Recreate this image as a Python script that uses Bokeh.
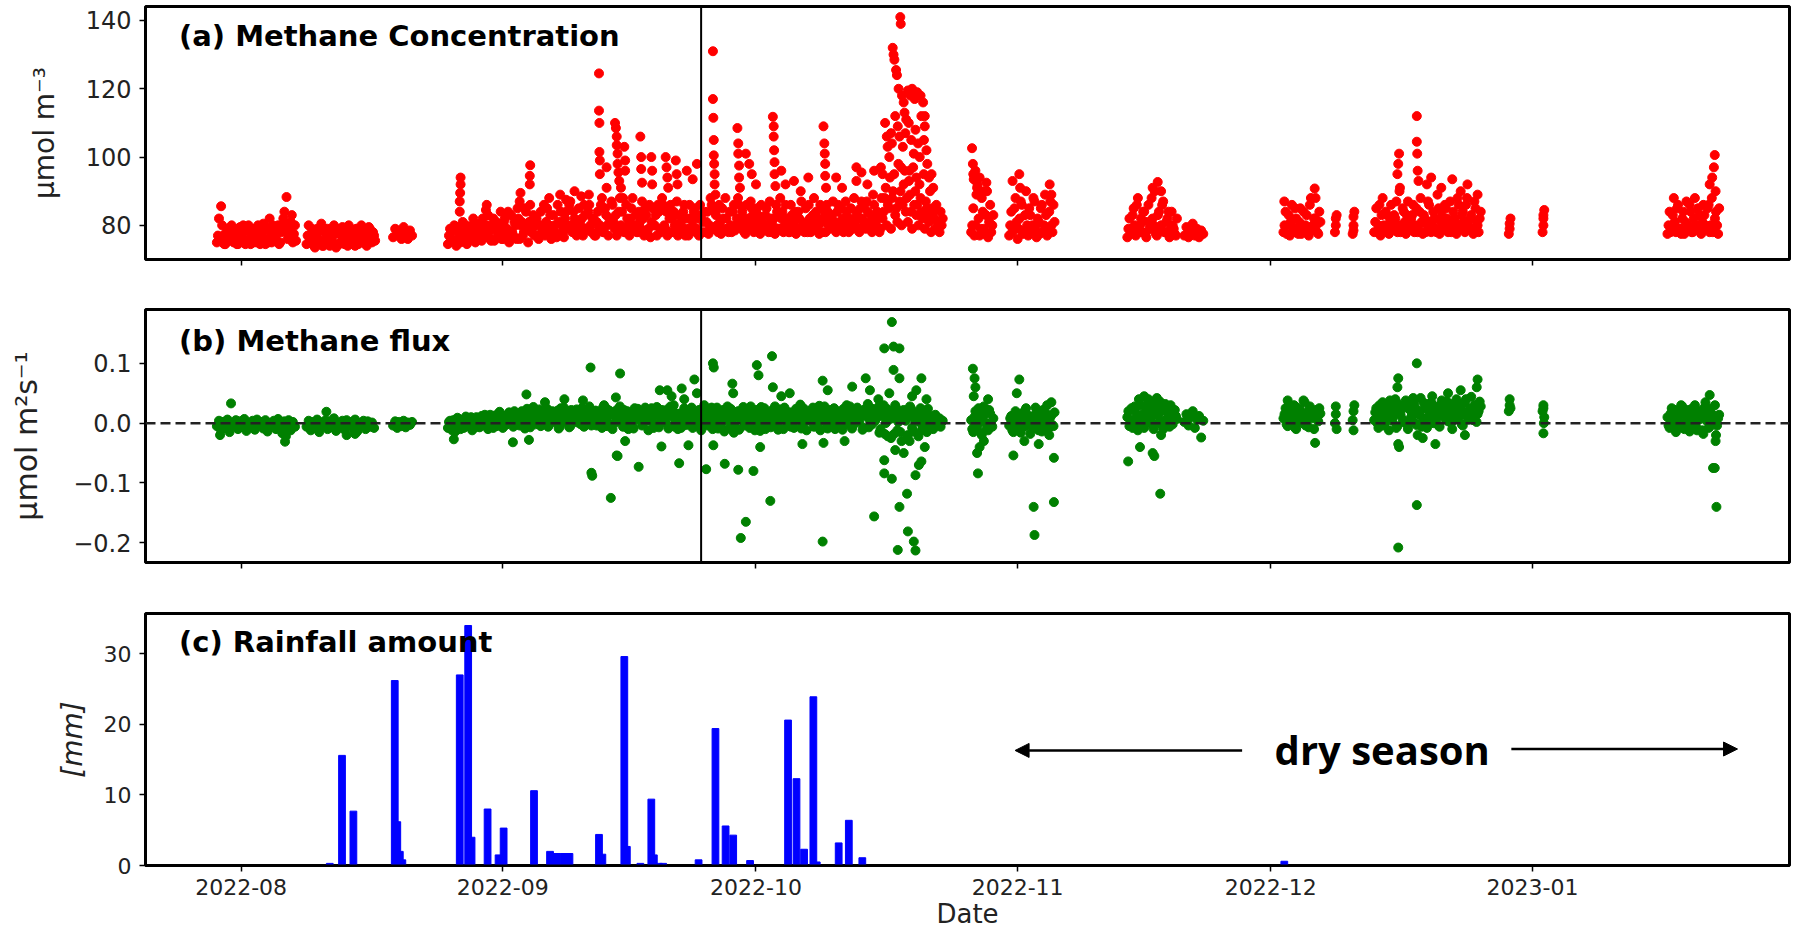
import pandas as pd
from bokeh.plotting import figure
from bokeh.layouts import column
from bokeh.models import (Range1d, FixedTicker, DatetimeTickFormatter, Span, Label,
                          Arrow, NormalHead)
from bokeh.embed import file_html
from bokeh.resources import INLINE

# ---------------- data ----------------
BASE_DATE = "2022-08-01"          # day offsets below are counted from this date
SAMPLE_STEP = "6h"                # regular sampling grid of the base series

month_ticks = ["2022-08-01", "2022-09-01", "2022-10-01", "2022-11-01", "2022-12-01", "2023-01-01"]
x_window = ["2022-07-20 16:00", "2023-01-31 11:00"]
season_split = "2022-09-24 12:00"

# segment start (day offset) of the 6-hourly base series
seg_start = [-2.875, 7.75, 18.0, 24.5, 86.5, 91.0, 105.0, 111.75, 123.5, 134.25, 169.0]
# second, interleaved readings of the dense segments
seg_start_b = [-2.75, 7.875, 24.625, 86.625, 91.125, 105.125, 123.625, 134.375, 169.125]
flux_seg_start_b = [24.625, 86.625, 91.125, 105.125, 123.625, 134.375, 169.125]

# (a) methane concentration, umol m-3
conc_1 = [75, 82, 85.6, 77, 74.5, 79, 76, 80, 75, 78, 74.5, 79.5, 76, 78, 75, 80, 74.5, 77, 79, 75,
          78, 76, 80.5, 74.5, 79, 82, 75, 78, 76, 80, 75, 79, 84, 88.3, 77, 81, 75, 80]
conc_2 = [74.5, 80, 76, 78, 73.5, 79, 75.5, 80.5, 74, 77.5, 79, 74, 76.5, 80, 73.5, 78, 75, 79.5, 74.5,
          77, 80, 75, 78.5, 74, 79, 76.5, 80, 75, 78, 76.5, 79, 75, 77]
conc_3 = [76.5, 79, 77, 78.5, 76, 79.5, 77.5, 76, 78.5, 77]
conc_4 = [74.5, 79,
          76, 80, 74, 78, 75, 81, 77, 74.5, 79, 76, 82, 75, 78, 80.5, 75.5, 79, 77, 83, 76, 80,
          75.5, 81, 78, 84, 76, 82, 79, 75, 83, 77, 80, 85, 76, 81, 78, 84, 75, 86, 79, 77,
          82, 76, 84, 79, 77, 85, 80, 76, 83, 78, 86, 77, 80, 76.5, 84, 79, 87, 78, 82, 77,
          85, 80, 77, 83, 79, 86, 78, 82, 77, 84, 80, 88, 78, 83, 77, 81, 86, 79, 77, 84,
          80, 88, 78, 82, 77, 85, 79, 83, 78, 81, 87, 77, 83, 79, 76.5, 85, 80, 77, 84, 78,
          86, 79, 77, 82, 78, 84, 80, 77, 83, 78, 86, 79, 77, 82, 80, 85, 79, 77, 83, 81,
          78, 84, 80, 86, 79, 83, 78, 81, 85, 79, 82, 78, 80, 84, 78.5, 82, 86, 79, 81, 77.5,
          82, 79, 85, 78, 80, 83, 77.5, 81, 79, 85, 78, 82, 80, 77.5, 84, 79, 82, 78, 86, 80,
          78, 83, 80, 77.5, 84, 79, 81, 78, 80, 86, 78, 83, 79, 82, 77.5, 85, 81, 78, 84, 79,
          83, 80, 78, 86, 79, 82, 80, 84, 78, 85, 79, 81, 83, 78, 87, 80, 79, 84, 81, 78,
          86, 80, 83, 79, 82, 88, 80, 85, 79, 90, 83, 81, 87, 80, 92, 84, 81, 89, 79, 86,
          83, 80, 88, 82, 79, 85, 81, 78, 84, 79, 81, 78,
          80]
conc_5 = [78, 85, 80, 92, 77, 88, 79, 83, 76.5, 86, 80]
conc_6 = [77, 84, 79, 88, 76, 82, 86, 78, 90, 77, 83, 80, 87, 76.5, 81, 85, 78, 89, 77, 84, 80, 86]
conc_7 = [76.5, 82, 79, 85, 77, 88, 80, 78, 84, 76.5, 86, 79, 82, 90, 77, 84, 80, 87, 78, 82, 76.5, 84, 79, 77]
conc_8 = [77, 79.5, 76.5, 78, 80.5, 77, 79, 76.5, 78.5, 77.5]
conc_9 = [78, 84, 80, 77, 86, 79, 82, 77.5, 85, 80, 78, 83, 77, 88, 80, 82, 78, 84]
conc_10 = [78, 85, 80, 77, 88, 79, 83, 77.5, 86, 80, 82, 78, 90, 79, 84, 77.5, 87, 80, 83, 78, 85, 79,
           88, 77.5, 82, 80, 86, 78, 84, 79, 89, 77.5, 83, 80, 85, 78, 87, 79, 82, 77.5, 86, 80, 84,
           78, 88, 79, 83, 77.5, 85, 80, 82]
conc_11 = [77.5, 84, 80, 88, 78, 86, 79, 82, 77.5, 87, 80, 84, 78, 88, 79, 83, 77.5, 86, 80, 85, 78, 88,
           79, 84, 77.5]
conc_segments = [conc_1, conc_2, conc_3, conc_4, conc_5, conc_6, conc_7, conc_8, conc_9, conc_10, conc_11]

conc_1b = [77, 76, 80, 74.5, 78, 75.5, 79.5, 76.5, 78, 74.5, 77, 76, 80, 74.5, 78.5, 76, 79, 75, 77.5, 80,
           74.5, 78, 76, 79.5, 75, 77, 80, 76, 79, 74.5, 78, 82, 80, 76, 79, 83, 77.5, 75.5]
conc_2b = [77, 75, 79, 74, 77, 76, 78.5, 74, 79, 76, 74.5, 78, 75, 77.5, 79, 74.5, 77, 76, 79, 74, 78,
           76.5, 75, 79, 74.5, 77.5, 75, 78, 74, 79.5, 76, 78, 75.5]
conc_4b = [77, 75.5,
           78.5, 75, 79.5, 76.5, 78, 75.5, 80, 77, 76, 80, 77.5, 79, 76, 78, 82, 77, 80, 78, 75.5, 82,
           79, 77, 80, 76, 81, 78, 84, 77, 78, 81, 76, 82, 80, 77, 85, 79, 81, 78, 83, 80,
           77, 80, 78, 86, 81, 79, 83, 78, 80, 76.5, 81, 84, 78, 82, 80, 86, 80, 84, 79, 81,
           78, 82, 86, 79, 84, 80, 82, 77, 81, 79, 86, 78, 85, 80, 82, 87, 81, 83, 79, 88,
           84, 78, 86, 80, 82, 88, 80, 78, 84, 79, 82, 85, 78, 86, 81, 80, 83, 86, 79, 88,
           80, 84, 78, 86, 82, 80, 87, 79, 81, 84, 77, 82, 86, 79, 84, 78, 82, 86, 78, 84,
           81, 77.5, 88, 79, 84, 80, 86, 77.5, 82, 88, 79, 84, 78, 86, 80, 88, 82, 84, 78, 86,
           80, 87, 83, 81, 85, 78, 86, 79, 83, 80, 87, 78, 82, 86, 79, 88, 84, 80, 82, 78,
           86, 81, 84, 79, 82, 87, 80, 85, 78, 82, 80, 88, 84, 80, 86, 78, 83, 86, 80, 82,
           87, 81, 84, 80, 85, 78, 87, 81, 82, 80, 88, 84, 79, 85, 82, 86, 87, 80, 83, 89,
           81, 84, 78, 88, 84, 91, 86, 94, 88, 95, 85, 98, 90, 86, 96, 88, 93, 84, 97, 90,
           86, 92, 84, 95, 87, 83, 90, 85, 82, 86, 80, 84,
           82]
conc_5b = [80, 77, 89, 82, 79, 84, 77.5, 90, 81, 78, 83]
conc_6b = [80, 78, 85, 81, 79, 87, 77.5, 83, 80, 85, 78, 88, 79, 82, 77.5, 86, 80, 83, 79, 87, 78, 81]
conc_7b = [79, 77.5, 83, 80, 86, 78, 82, 84, 77.5, 81, 79, 88, 80, 77.5, 83, 79, 86, 78, 81, 84, 79, 80,
           77.5, 82]
conc_9b = [80, 77.5, 83, 81, 78, 85, 79, 81, 77.5, 84, 80, 78, 86, 79, 82, 80, 77.5, 81]
conc_10b = [81, 78, 86, 83, 80, 84, 78, 81, 79, 83, 87, 80, 78, 85, 81, 83, 79, 82, 86, 80, 78, 84, 81,
            83, 78, 87, 81, 80, 82, 78, 85, 81, 79, 86, 82, 80, 78, 84, 81, 88, 79, 83, 81, 86, 80, 82,
            79, 87, 81, 78, 84]
conc_11b = [80, 78, 83, 81, 85, 79, 77.5, 84, 81, 79, 86, 78, 82, 80, 85, 78, 81, 83, 79, 86, 80, 78, 82,
            80, 85]
conc_segments_b = [conc_1b, conc_2b, conc_4b, conc_5b, conc_6b, conc_7b, conc_9b, conc_10b, conc_11b]

# isolated high readings of (a): day offset, value
conc_spike_day = [25.9, 25.9, 25.95, 26.0, 26.0, 29.0, 29.1, 33.0, 33.1, 34.2, 34.2, 34.25,
                  36.5, 37.8, 38.5, 39.5, 40.3, 41.2,
                  42.4, 42.4, 42.45, 42.45, 42.5, 42.5, 43.3, 43.3,
                  44.3, 44.4, 44.5, 44.5, 44.6, 44.6, 44.7, 44.8, 45.0, 45.4, 45.5, 45.5,
                  47.3, 47.4, 47.4, 47.5, 48.6, 48.7, 48.7, 50.3, 50.4, 50.5, 50.6, 51.5, 51.6, 51.7,
                  52.8, 53.5, 54.0,
                  55.9, 55.9, 55.95, 56.0, 56.0, 56.05, 56.1, 56.1, 56.2,
                  58.8, 58.9, 58.9, 59.0, 59.0, 59.1, 59.8, 60.2, 60.5, 61.0,
                  63.0, 63.1, 63.1, 63.15, 63.2, 63.2, 63.3, 64.0, 64.5, 65.5, 66.3, 67.2,
                  69.0, 69.1, 69.15, 69.2, 69.2, 69.3, 70.5, 71.2, 72.9, 72.9, 73.5, 74.2, 75.0,
                  77.2, 77.3, 77.4, 77.6, 77.7, 78.1, 78.15, 77.9, 78.3, 78.5, 78.6, 78.8,
                  79.0, 79.3, 79.5, 79.8, 80.1, 80.5, 80.8, 81.0, 81.0, 76.3, 76.5, 76.6, 76.8,
                  77.0, 77.1, 77.5, 77.8, 78.0, 78.4, 78.7, 79.1, 79.4, 79.7, 79.9, 80.2, 80.4,
                  80.6, 80.9, 81.2, 81.3, 75.8, 76.0, 78.2, 79.2, 80.0, 81.5, 82.0, 81.8,
                  86.6, 86.7, 86.75, 86.8, 87.0, 87.2, 87.5, 88.0, 88.3,
                  91.4, 92.2, 92.3, 95.8, 96.0, 108.0, 108.6, 109.0, 123.6, 127.2, 127.3,
                  129.6, 129.7, 129.7, 129.8, 131.7, 131.8, 131.8, 131.9, 131.8,
                  137.0, 137.1, 137.2, 137.3, 139.3, 139.3, 139.35, 139.4, 139.5, 140.5, 141.0,
                  142.2, 143.5, 144.5, 145.3, 146.5,
                  150.2, 150.3, 150.3, 150.4, 154.2, 154.3, 154.3, 154.4, 154.3,
                  174.0, 174.3, 174.5, 174.6, 174.7]
conc_spike_val = [84, 87, 89.5, 92, 94, 84.5, 86, 87, 89.5, 92, 94.5, 97.6,
                  88, 89, 87.5, 90, 88.5, 89,
                  124.5, 113.6, 110, 101.5, 99, 95, 97, 91,
                  110, 108.5, 106, 103.5, 101, 98, 95.5, 93, 91, 103, 99, 96,
                  106, 100, 96.5, 92.5, 100, 96, 92, 100, 97, 94, 91, 99, 95, 92,
                  96, 93.5, 98,
                  131, 117, 111.5, 105, 100.5, 98, 95, 92, 89,
                  108.5, 104, 101, 97.5, 94, 91, 101, 98, 95, 92,
                  111.8, 109, 106, 102, 98.5, 95, 91.5, 96, 92, 93, 90, 94,
                  109, 104, 101, 98, 94.5, 91, 94, 91, 97, 93, 95.5, 92, 96,
                  132, 130, 128.5, 125.5, 124, 141, 139, 120, 118, 116, 113, 111,
                  119.5, 118, 120, 117, 119, 118, 116, 112, 109, 110, 106, 103, 100,
                  107, 104, 112, 109, 106, 103, 107, 110, 105, 101, 108, 104, 100,
                  112, 105, 102, 98, 97, 95, 97, 96, 94, 94, 91, 95,
                  102.6, 98, 95, 93.5, 96, 91, 94, 90, 92.5,
                  93, 95, 91, 92, 89, 91, 92.7, 90, 87, 90.8, 88,
                  78, 80, 82, 83, 77.5, 80, 82.5, 84, 78.5,
                  95, 98, 101, 91, 112, 104.5, 101, 96, 93, 92, 94,
                  91, 93.5, 90, 92, 89,
                  77.5, 79, 80.5, 82, 78, 80, 82, 84.5, 83,
                  92, 94, 97, 100.6, 90]

# (b) methane flux, umol m2 s-1
flux_1 = [-0.005, 0.004, -0.012, 0.002, -0.008, 0.006, -0.015, 0.0, -0.004, 0.005, -0.01, 0.003, -0.006,
          0.007, -0.013, 0.001, -0.007, 0.004, -0.011, 0.006, -0.003, 0.002, -0.009, 0.005, -0.014, 0.0,
          -0.006, 0.004, -0.01, 0.007, -0.004, -0.017, 0.003, -0.008, 0.005, -0.012, 0.002, -0.006]
flux_2 = [-0.006, 0.004, -0.012, 0.002, -0.008, 0.006, -0.015, 0.001, -0.004, 0.005, -0.01, 0.003, -0.006,
          0.008, -0.013, 0.0, -0.007, 0.004, -0.011, 0.005, -0.003, 0.002, -0.009, 0.006, -0.014, 0.0,
          -0.005, 0.004, -0.01, 0.003, -0.006, 0.001, -0.008]
flux_3 = [-0.004, 0.003, -0.008, 0.002, -0.005, 0.004, -0.007, 0.001, -0.003, 0.002]
flux_4 = [-0.008, 0.004,
          -0.012, 0.002, -0.005, 0.007, -0.01, 0.003, -0.006, 0.008, -0.004, 0.01, -0.009, 0.005,
          0.002, -0.007, 0.012, -0.003, 0.006, -0.01, 0.014, 0.0, 0.009, -0.005, 0.016, 0.003,
          -0.008, 0.012, 0.002, 0.018, 0.005, -0.006, 0.015, 0.008, -0.004, 0.02, 0.003, 0.011,
          0.016, -0.007, 0.009, 0.022, 0.001, 0.014, -0.005, 0.019, 0.008, 0.024, -0.003, 0.012,
          0.017, 0.002, 0.021, -0.006, 0.01, 0.026, 0.004, 0.015, -0.005, 0.018, 0.007, 0.023,
          0.012, -0.002, 0.02, 0.006, 0.016, 0.028, -0.004, 0.009, 0.021, 0.003, 0.014, -0.008,
          0.011, 0.025, 0.0, 0.017, -0.01, 0.013, 0.022, 0.004, 0.015, -0.006, 0.009, 0.02,
          0.003, 0.018, -0.009, 0.012, 0.024, 0.006, -0.004, 0.016, 0.009, -0.012, 0.019, 0.002,
          0.014, 0.027, -0.007, 0.008, 0.018, 0.001, 0.023, -0.005, 0.011, 0.03, 0.004, -0.01,
          0.016, 0.007, 0.025, -0.003, 0.02, 0.009, -0.008, 0.014, 0.005, 0.022, -0.012, 0.01,
          0.017, -0.004, 0.012, 0.026, 0.002, 0.015, -0.009, 0.021, 0.008, -0.014, 0.018, 0.004,
          0.024, 0.01, -0.006, 0.016, -0.011, 0.013, 0.027, 0.001, 0.019, -0.008, 0.009, 0.022,
          0.005, 0.017, -0.013, 0.012, 0.025, 0.002, 0.014, -0.007, 0.01, 0.028, -0.004, 0.016,
          0.006, -0.01, 0.021, 0.011, 0.018, 0.003, -0.008, 0.024, 0.009, 0.031, -0.005, 0.014,
          -0.012, 0.02, 0.007, 0.026, 0.013, -0.003, 0.029, 0.004, 0.017, 0.008, -0.009, 0.022,
          0.003, 0.025, 0.011, -0.006, 0.019, -0.011, 0.014, 0.03, 0.007, 0.021, -0.004, 0.015,
          0.026, 0.002, 0.018, -0.008, 0.012, 0.032, 0.005, -0.002, 0.02, 0.009, 0.027, -0.01,
          0.015, -0.018, 0.024, 0.006, -0.025, 0.018, 0.03, -0.012, 0.011, -0.03, 0.022, 0.004,
          -0.02, 0.028, -0.008, 0.016, 0.009, -0.022, 0.025, -0.005, 0.019, -0.015, 0.012, 0.003,
          -0.01, 0.014, -0.004, 0.008,
          0.002]
flux_5 = [0.005, -0.015, 0.02, -0.004, 0.012, -0.02, 0.028, 0.0, -0.012, 0.016, -0.006]
flux_6 = [-0.004, 0.012, -0.015, 0.02, 0.003, -0.01, 0.016, -0.006, 0.025, 0.0, -0.018, 0.011, -0.003,
          0.018, -0.012, 0.007, 0.022, -0.008, 0.004, -0.02, 0.013, -0.005]
flux_7 = [0.01, -0.005, 0.025, 0.003, 0.018, -0.012, 0.03, 0.006, -0.008, 0.022, 0.012, 0.035, -0.003,
          0.015, 0.028, 0.0, 0.02, -0.01, 0.032, 0.008, -0.006, 0.017, 0.004, 0.012]
flux_8 = [0.002, 0.015, -0.004, 0.01, 0.02, -0.008, 0.006, 0.012, -0.024, 0.004]
flux_9 = [0.008, 0.025, -0.005, 0.018, 0.002, 0.03, -0.01, 0.012, 0.022, 0.0, 0.035, 0.006, -0.007,
          0.02, 0.014, -0.033, 0.01, 0.025]
flux_10 = [0.005, 0.025, -0.008, 0.015, 0.035, 0.0, 0.02, -0.012, 0.03, 0.01, 0.04, -0.005, 0.018, 0.028,
           0.002, 0.038, -0.01, 0.022, 0.012, 0.032, -0.003, 0.015, 0.042, 0.006, 0.025, -0.008, 0.02,
           0.035, 0.0, 0.028, 0.01, -0.006, 0.038, 0.015, 0.022, 0.003, 0.032, -0.01, 0.018, 0.04,
           0.008, 0.026, -0.004, 0.034, 0.012, 0.02, 0.044, 0.005, 0.03, 0.015, 0.036]
flux_11 = [0.01, -0.008, 0.025, 0.003, -0.015, 0.018, 0.0, 0.028, -0.01, 0.012, 0.022, -0.005, 0.015,
           0.03, -0.012, 0.006, 0.02, -0.018, 0.01, 0.025, -0.006, 0.015, 0.002, -0.02, 0.008]
flux_segments = [flux_1, flux_2, flux_3, flux_4, flux_5, flux_6, flux_7, flux_8, flux_9, flux_10, flux_11]

flux_4b = [0.002, -0.006,
           0.005, -0.014, 0.009, -0.002, 0.004, -0.008, 0.011, -0.005, 0.007, -0.012, 0.003, 0.01,
           -0.006, 0.008, -0.002, 0.014, -0.004, 0.011, 0.004, -0.008, 0.013, 0.0, 0.019, -0.006,
           0.006, -0.003, 0.015, 0.01, 0.012, 0.02, -0.002, 0.004, 0.009, 0.016, -0.009, 0.024,
           0.004, 0.012, 0.027, -0.002, 0.01, 0.023, 0.006, 0.014, 0.018, -0.006, 0.009, 0.02,
           0.007, 0.013, -0.009, 0.025, 0.002, 0.018, 0.012, -0.007, 0.022, 0.01, 0.015, 0.001,
           0.008, 0.025, -0.006, 0.017, 0.004, 0.012, 0.02, 0.007, -0.004, 0.018, 0.009, 0.026,
           0.006, -0.005, 0.021, 0.013, 0.018, 0.001, 0.009, 0.028, 0.005, 0.022, 0.012, -0.01,
           0.015, -0.004, 0.025, 0.007, 0.011, 0.019, 0.0, 0.026, 0.004, 0.015, 0.025, -0.008,
           0.02, -0.003, 0.012, 0.022, 0.006, 0.014, -0.009, 0.028, 0.02, -0.006, 0.016, 0.009,
           -0.008, 0.012, 0.002, 0.019, 0.004, 0.026, 0.013, 0.001, 0.016, -0.007, 0.008, 0.03,
           0.008, 0.02, 0.003, -0.01, 0.011, 0.026, 0.006, -0.004, 0.022, 0.013, 0.028, -0.008,
           0.003, -0.016, 0.012, 0.02, 0.006, 0.02, -0.004, 0.015, 0.012, 0.028, 0.003, -0.012,
           0.022, -0.004, 0.027, 0.008, -0.01, 0.017, 0.006, 0.021, 0.019, 0.004, -0.011, 0.023,
           0.014, 0.026, 0.002, 0.017, -0.006, 0.012, 0.02, 0.005, 0.02, -0.009, 0.025, 0.003,
           0.015, 0.004, 0.018, -0.006, 0.021, 0.009, -0.012, 0.017, 0.028, -0.004, 0.012, 0.006,
           0.016, -0.01, 0.02, 0.008, 0.005, 0.024, -0.002, 0.01, 0.028, -0.009, 0.011, 0.022,
           0.008, 0.015, -0.011, 0.023, 0.019, -0.007, 0.025, 0.01, 0.004, 0.018, -0.016, 0.012,
           0.03, 0.0, -0.022, 0.016, 0.008, -0.018, 0.025, 0.002, -0.015, 0.02, 0.006, -0.026,
           0.012, 0.024, -0.014, 0.004, 0.018, 0.002, -0.012, 0.015, 0.005, 0.024, -0.008, 0.01,
           0.012, -0.002, 0.007, -0.006,
           0.004]
flux_5b = [-0.01, 0.01, -0.003, 0.025, -0.016, 0.006, 0.015, -0.008, 0.022, -0.002, 0.008]
flux_6b = [0.008, -0.012, 0.005, -0.006, 0.014, -0.016, 0.01, 0.021, -0.004, 0.012, 0.002, -0.008, 0.026,
           -0.002, 0.009, -0.014, 0.006, 0.016, -0.01, 0.01, -0.003, 0.018]
flux_7b = [0.02, 0.005, -0.008, 0.028, 0.01, 0.04, -0.004, 0.015, 0.03, 0.002, 0.024, 0.008, -0.01, 0.026,
           0.014, 0.036, 0.004, -0.006, 0.02, 0.012, 0.03, -0.002, 0.022, 0.007]
flux_9b = [0.015, -0.002, 0.03, 0.006, 0.02, -0.008, 0.026, 0.004, 0.012, 0.038, -0.004, 0.018, 0.028,
           0.008, -0.01, 0.022, 0.003, 0.016]
flux_10b = [0.018, 0.0, 0.03, 0.01, -0.004, 0.024, 0.012, 0.038, 0.004, 0.02, -0.008, 0.032, 0.014, 0.006,
            0.026, -0.002, 0.03, 0.01, 0.042, 0.0, 0.022, 0.016, -0.006, 0.034, 0.008, 0.028, 0.012,
            0.045, 0.004, 0.018, -0.004, 0.03, 0.02, 0.008, 0.036, 0.014, 0.0, 0.026, 0.01, 0.022,
            0.032, -0.002, 0.016, 0.04, 0.006, 0.024, 0.012, 0.03, 0.002, 0.02, 0.028]
flux_11b = [-0.004, 0.016, 0.006, 0.022, -0.01, 0.012, 0.03, -0.002, 0.018, 0.004, -0.014, 0.024, 0.008,
            -0.006, 0.02, 0.012, -0.012, 0.026, 0.004, -0.008, 0.018, 0.01, 0.03, -0.004, 0.014]
flux_segments_b = [flux_4b, flux_5b, flux_6b, flux_7b, flux_9b, flux_10b, flux_11b]

flux_spike_day = [-1.2, 5.2, 5.3, -2.5, 10.1, 12.5, 13.5,
                  25.2, 32.2, 34.1, 33.8, 36.0, 38.3, 40.5, 41.4, 41.5, 41.6, 43.0, 44.4, 44.9, 44.5,
                  44.6, 43.8, 45.5, 47.1, 49.8, 49.6, 50.5, 51.0, 51.9, 52.2, 52.5, 53.7, 54.0, 53.0,
                  55.1, 55.9, 56.0, 55.95, 57.3, 58.2, 58.3, 58.9, 59.2, 59.8, 60.7, 61.1, 61.3, 61.5,
                  62.7, 62.9, 63.0, 64.0, 65.0, 66.5, 68.9, 68.9, 69.0, 69.5, 71.5, 72.4, 74.0, 74.5,
                  75.0, 76.2, 77.1, 77.3, 78.0, 77.3, 78.0, 76.2, 76.2, 77.1, 77.8, 78.0, 78.9, 79.0,
                  79.7, 79.9, 79.9, 80.6, 80.6, 77.5, 78.5, 79.5, 80.0, 81.0, 76.8, 75.5, 79.2, 80.3, 81.2,
                  86.7, 86.9, 87.0, 87.2, 87.3, 87.5, 86.8, 88.0, 88.5,
                  92.2, 91.9, 91.5, 92.8, 93.9, 94.0, 96.3, 96.3, 95.5, 96.0, 94.5,
                  105.1, 106.5, 107.0, 107.5, 108.0, 108.2, 108.9, 108.5, 109.0, 124.0,
                  129.6, 129.7, 129.7, 129.8, 131.7, 131.8, 131.8, 131.9,
                  137.0, 137.1, 137.1, 137.2, 137.1, 139.3, 139.3, 139.4, 140.0, 141.5, 143.0, 144.5,
                  146.5, 146.4, 145.0,
                  150.2, 150.3, 150.3, 150.4, 154.2, 154.3, 154.3, 154.4, 154.3, 154.35,
                  174.0, 174.4, 174.6, 174.8, 174.7, 173.5]
flux_spike_val = [0.033, -0.031, -0.022, -0.02, 0.019, -0.02, -0.018,
                  -0.027, -0.032, -0.028, 0.048, 0.035, 0.04, 0.038, 0.093, -0.083, -0.088, 0.03, 0.043,
                  0.083, -0.054, -0.055, -0.125, -0.03, -0.073, -0.039, 0.055, 0.055, 0.045, -0.067, 0.058,
                  0.04, 0.073, 0.05, -0.037,
                  -0.077, 0.1, 0.093, -0.037, -0.068, 0.066, 0.05, -0.078, -0.192, -0.165, -0.08, 0.097,
                  0.08, -0.04, -0.13, 0.112, 0.06, 0.045, 0.05, -0.035, 0.071, -0.198, -0.033, 0.055,
                  -0.03, 0.061, 0.075, 0.055,
                  -0.156, 0.125, 0.169, 0.128, 0.125, 0.089, 0.075, -0.062, -0.084, -0.093, -0.212, -0.14,
                  -0.118, -0.181, -0.198, -0.213, -0.087, -0.064, 0.075, -0.045, -0.05, 0.045, 0.055,
                  -0.04, 0.05, 0.04, -0.03, -0.07, 0.04,
                  0.091, 0.075, 0.06, -0.05, -0.084, -0.04, 0.045, -0.03, 0.04,
                  0.073, 0.05, -0.054, -0.03, -0.14, -0.187, -0.132, -0.058, 0.03, 0.035, -0.035,
                  -0.064, -0.04, 0.045, 0.04, -0.05, -0.055, -0.118, 0.042, -0.02, 0.038,
                  0.0, 0.015, 0.028, -0.01, 0.005, 0.02, -0.012, 0.03,
                  0.06, 0.075, -0.035, -0.04, -0.208, 0.1, -0.137, -0.02, -0.025, -0.035, 0.05, 0.055,
                  0.073, 0.06, -0.02,
                  0.02, 0.03, 0.04, 0.025, 0.02, 0.03, 0.025, 0.01, -0.017, 0.0,
                  0.047, -0.075, -0.075, -0.14, -0.03, 0.035]

# (c) rainfall, mm
rain_day = [10.5, 11.95, 13.3, 18.2, 18.5, 18.8, 19.1, 25.9, 26.9, 27.3, 29.2, 30.5, 31.1, 34.7, 36.6,
            37.4, 38.2, 38.9, 42.4, 42.8, 45.4, 45.7, 47.3, 48.6, 48.9, 49.5, 50.0, 54.2, 56.2, 57.4,
            58.3, 60.3, 64.8, 65.8, 66.7, 67.8, 68.2, 70.8, 72.0, 73.6, 123.6]
rain_mm = [0.3, 15.6, 7.7, 26.2, 6.2, 2.0, 0.8, 27.0, 34.0, 4.0, 8.0, 1.5, 5.3, 10.6, 2.0,
           1.7, 1.7, 1.7, 4.4, 1.6, 29.6, 2.7, 0.3, 9.4, 1.5, 0.3, 0.3, 0.8, 19.4, 5.6,
           4.3, 0.7, 20.6, 12.3, 2.3, 23.9, 0.5, 3.2, 6.4, 1.1, 0.6]

# annotation of panel (c): arrows (day offsets) and text
dry_arrow_left = [118.6, 91.7]
dry_arrow_right = [150.5, 177.3]
dry_arrow_level = 16.4
dry_text_day = 135.2

# ---------------- helpers ----------------
base = pd.Timestamp(BASE_DATE)


def to_ms(t):
    return pd.Timestamp(t).value / 1e6


def day_ms(d):
    return (base + pd.Timedelta(days=d)).value / 1e6


def series(starts, segments):
    xs, ys = [], []
    for s, vals in zip(starts, segments):
        times = pd.date_range(base + pd.Timedelta(days=s), periods=len(vals), freq=SAMPLE_STEP)
        xs += [t.value / 1e6 for t in times]
        ys += list(vals)
    return xs, ys


FONT = "DejaVu Sans"
x0, x1 = to_ms(x_window[0]), to_ms(x_window[1])
tick_ms = [to_ms(m) for m in month_ticks]
fmt = DatetimeTickFormatter(years="%Y-%m", months="%Y-%m", days="%Y-%m", hours="%Y-%m",
                            hourmin="%Y-%m", minutes="%Y-%m", minsec="%Y-%m", seconds="%Y-%m",
                            milliseconds="%Y-%m", microseconds="%Y-%m")


def make_fig(height, top, bottom, yr, yticks, ylabel, ylabel_size, label_standoff, tick_font, show_x):
    p = figure(width=1794, height=height, x_axis_type="datetime",
               x_range=Range1d(x0, x1), y_range=Range1d(*yr),
               output_backend="svg", toolbar_location=None,
               min_border_left=145, min_border_right=5,
               min_border_top=top, min_border_bottom=bottom)
    p.grid.visible = False
    p.outline_line_color = "black"
    p.outline_line_width = 3
    p.outline_line_alpha = 1.0
    p.background_fill_color = "white"
    p.border_fill_color = "white"
    for ax in (p.xaxis[0], p.yaxis[0]):
        ax.axis_line_color = "black"
        ax.axis_line_width = 2
        ax.major_tick_out = 6
        ax.major_tick_in = 0
        ax.minor_tick_out = 0
        ax.minor_tick_in = 0
        ax.major_tick_line_color = "black"
        ax.major_tick_line_width = 1.5
        ax.major_label_text_font = FONT
        ax.major_label_text_color = "#222222"
        ax.axis_label_text_font = FONT
        ax.axis_label_text_font_style = "normal"
        ax.axis_label_text_color = "#222222"
    p.xaxis[0].ticker = FixedTicker(ticks=tick_ms)
    p.xaxis[0].formatter = fmt
    if show_x:
        p.xaxis[0].major_label_standoff = 7
        p.xaxis[0].major_label_text_font_size = "22px"
        p.xaxis[0].axis_label = "Date"
        p.xaxis[0].axis_label_text_font_size = "26px"
        p.xaxis[0].axis_label_standoff = 1
    else:
        # tick marks only, no tick labels on the upper panels
        p.xaxis[0].major_label_standoff = 0
        p.xaxis[0].major_label_text_font_size = "10px"
        p.xaxis[0].major_label_text_color = None
    p.yaxis[0].ticker = FixedTicker(ticks=yticks)
    p.yaxis[0].major_label_text_font_size = tick_font
    p.yaxis[0].major_label_standoff = 8
    p.yaxis[0].axis_label = ylabel
    p.yaxis[0].axis_label_text_font_size = ylabel_size
    p.yaxis[0].axis_label_standoff = label_standoff
    return p


def title(p, text, yval):
    p.add_layout(Label(x=day_ms(-7.36), y=yval, text=text, text_font=FONT,
                       text_font_style="bold", text_font_size="29px",
                       text_baseline="middle", text_align="left", text_color="black"))


def dots(p, xs, ys, color):
    p.scatter(xs, ys, size=9, fill_color=color, line_color=color)


# ---------------- (a) ----------------
pa = make_fig(284, 6, 25, (70.0, 144.1), [80, 100, 120, 140], "μmol m⁻³", "28px", 22, "24px", False)
dots(pa, *series(seg_start, conc_segments), "red")
dots(pa, *series(seg_start_b, conc_segments_b), "red")
dots(pa, [day_ms(d) for d in conc_spike_day], conc_spike_val, "red")
pa.add_layout(Span(location=to_ms(season_split), dimension="height", line_color="black", line_width=2))
title(pa, "(a) Methane Concentration", 135.6)

# ---------------- (b) ----------------
pb = make_fig(303, 25, 25, (-0.233, 0.19), [-0.2, -0.1, 0.0, 0.1], "μmol m²s⁻¹", "30px", 26, "24px", False)
pb.yaxis[0].major_label_overrides = {-0.2: "−0.2", -0.1: "−0.1", 0.0: "0.0", 0.1: "0.1"}
dots(pb, *series(seg_start, flux_segments), "green")
dots(pb, *series(flux_seg_start_b, flux_segments_b), "green")
dots(pb, [day_ms(d) for d in flux_spike_day], flux_spike_val, "green")
pb.add_layout(Span(location=0, dimension="width", line_color="#222222", line_width=2.5, line_dash="10 5"))
pb.add_layout(Span(location=to_ms(season_split), dimension="height", line_color="black", line_width=2))
title(pb, "(b) Methane flux", 0.138)

# ---------------- (c) ----------------
pc = make_fig(344, 26, 66, (0.0, 35.7), [0, 10, 20, 30], "[mm]", "28px", 12, "22px", True)
pc.yaxis[0].axis_label_text_font_style = "italic"
pc.vbar(x=[day_ms(d) for d in rain_day], top=rain_mm, width=0.8 * 86400000,
        fill_color="blue", line_color="blue")
title(pc, "(c) Rainfall amount", 31.6)
head = dict(size=14, fill_color="black", line_color="black")
pc.add_layout(Arrow(end=NormalHead(**head), line_color="black", line_width=2.5,
                    x_start=day_ms(dry_arrow_left[0]), x_end=day_ms(dry_arrow_left[1]),
                    y_start=dry_arrow_level - 0.1, y_end=dry_arrow_level - 0.1))
pc.add_layout(Arrow(end=NormalHead(**head), line_color="black", line_width=2.5,
                    x_start=day_ms(dry_arrow_right[0]), x_end=day_ms(dry_arrow_right[1]),
                    y_start=dry_arrow_level + 0.1, y_end=dry_arrow_level + 0.1))
pc.add_layout(Label(x=day_ms(dry_text_day), y=dry_arrow_level, text="dry season",
                    text_font="Open Sans", text_font_style="bold", text_font_size="40px",
                    text_align="center", text_baseline="middle", text_color="black"))

layout = column(pa, pb, pc, spacing=0)
open("out.html", "w").write(file_html(layout, INLINE))
